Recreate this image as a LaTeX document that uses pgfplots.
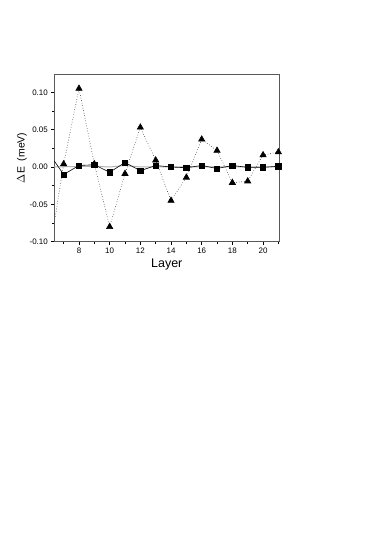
\documentclass[border=0pt]{standalone}
\usepackage{pgfplots}
\pgfplotsset{compat=1.18}
\usepackage{fontspec}
\setmainfont{Liberation Sans}
\setsansfont{Liberation Sans}
\begin{document}
\begin{tikzpicture}
\useasboundingbox (0,0) rectangle (374bp,535bp);
\begin{axis}[
    at={(54.3bp,293.3bp)}, anchor=south west,
    scale only axis,
    width=225bp, height=167.7bp,
    xmin=6.39, xmax=21.06,
    ymin=-0.10, ymax=0.1245,
    xtick={8,10,...,20},
    minor xtick={7,9,...,21},
    ytick={-0.10,-0.05,0,0.05,0.10},
    minor ytick={-0.075,-0.025,0.025,0.075},
    xtick pos=bottom, ytick pos=left,
    yticklabel style={/pgf/number format/.cd,fixed,fixed zerofill,precision=2},
    /pgf/number format/assume math mode=true,
    ticklabel style={font=\fontsize{8}{9}\selectfont},
    tick align=outside,
    major tick length=3bp, minor tick length=2bp,
    tick style={black, line width=0.5pt},
    axis line style={line width=0.8pt, gray!70!black},
    xlabel={Layer},
    ylabel={$\Delta$E\ \ (meV)},
    label style={font=\fontsize{12.5}{14}\selectfont},
    xlabel style={yshift=2bp},
    ylabel style={font=\fontsize{10.5}{12}\selectfont, yshift=-4bp},
    clip=true,
]
% grey reference curve
\addplot[gray!60, line width=1pt] coordinates {
  (6,0) (9,0.001) (10,0.000) (11,0.002) (12,0) (21,0)
};
% triangles, dotted
\addplot[black!80, dotted, line width=0.6pt, mark=triangle*, mark size=3.6pt, mark options={solid, black}] coordinates {
  (6,-0.125) (7,0.004) (8,0.105) (9,0.004) (10,-0.080) (11,-0.009) (12,0.053)
  (13,0.009) (14,-0.045) (15,-0.014) (16,0.037) (17,0.022) (18,-0.021)
  (19,-0.019) (20,0.016) (21,0.020)
};
% squares, solid
\addplot[black, line width=0.6pt, mark=square*, mark size=2.6pt] coordinates {
  (6,0.0195) (7,-0.010) (8,0.002) (9,0.003) (10,-0.007) (11,0.006) (12,-0.005)
  (13,0.002) (14,0.000) (15,-0.001) (16,0.002) (17,-0.002) (18,0.002)
  (19,-0.0005) (20,-0.0005) (21,0.001)
};
\end{axis}
\end{tikzpicture}
\end{document}
